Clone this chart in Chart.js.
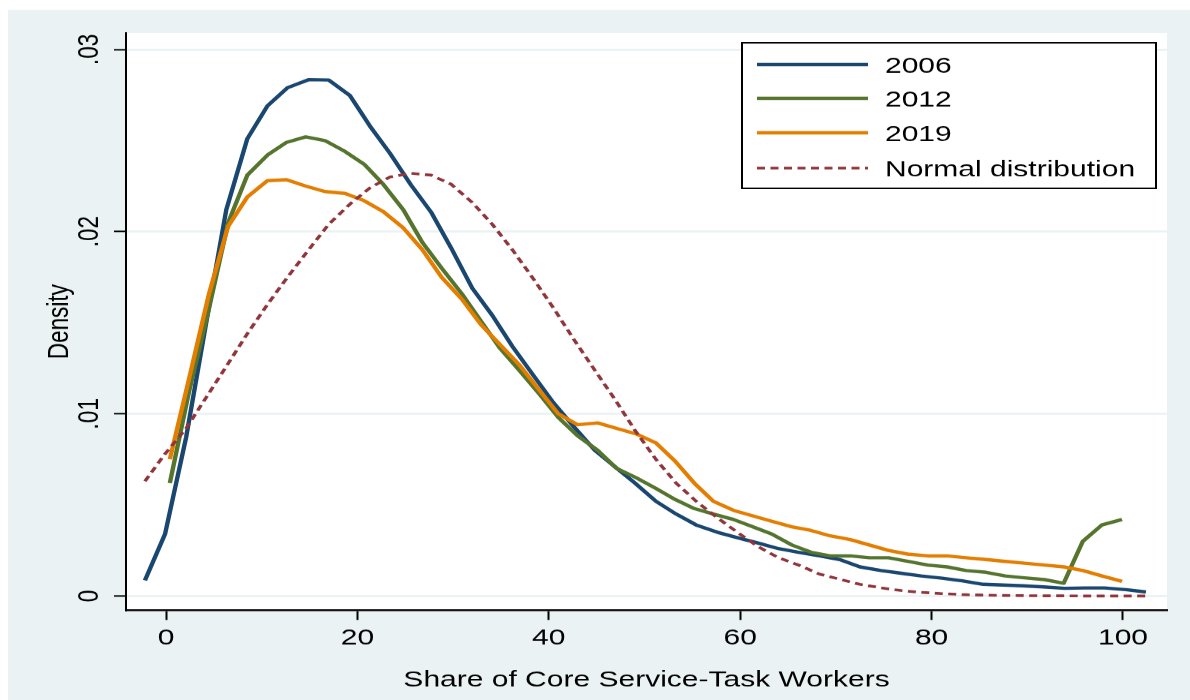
<!DOCTYPE html>
<html>
<head>
<meta charset="utf-8">
<title>Density of the share of core service-task workers</title>
<script src="https://cdn.jsdelivr.net/npm/chart.js@4.4.1/dist/chart.umd.min.js"></script>
<style>
  html, body { margin: 0; padding: 0; background: #ffffff; overflow: hidden; width: 1190px; height: 700px; }
  /* the graph is laid out on a taller page and compressed vertically to 700px */
  #frame { width: 1190px; height: 933px; transform: scaleY(0.75027); transform-origin: 0 0; }
</style>
</head>
<body>
<div id="frame"><canvas id="chart"></canvas></div>
<script>
// Evaluation points (share of core service-task workers, %)
const shareA = [-2.2, -0.1, 2.1, 4.2, 6.3, 8.5, 10.6, 12.7, 14.9, 17.0,
                19.2, 21.3, 23.4, 25.6, 27.7, 29.8, 32.0, 34.1, 36.2, 38.4,
                40.5, 42.6, 44.8, 46.9, 49.0, 51.2, 53.3, 55.4, 57.6, 59.7,
                61.9, 64.0, 66.1, 68.3, 70.4, 72.5, 74.7, 76.8, 78.9, 81.1,
                83.2, 85.4, 87.5, 89.6, 91.7, 93.9, 96.0, 98.1, 100.3, 102.4];
const shareB = [0.4, 2.4, 4.5, 6.5, 8.5, 10.6, 12.6, 14.6, 16.6, 18.7,
                20.7, 22.7, 24.8, 26.8, 28.8, 30.9, 32.9, 34.9, 36.9, 39.0,
                41.0, 43.0, 45.1, 47.1, 49.1, 51.2, 53.2, 55.2, 57.2, 59.3,
                61.3, 63.3, 65.4, 67.4, 69.4, 71.5, 73.5, 75.5, 77.5, 79.6,
                81.6, 83.6, 85.7, 87.7, 89.7, 91.8, 93.8, 95.8, 97.8, 99.9];

// Kernel density estimates by year
const density2006 = [0.00086, 0.0034, 0.0087, 0.0150, 0.0212, 0.0251, 0.0269, 0.0279, 0.02834, 0.02832,
                     0.02748, 0.0258, 0.0243, 0.02256, 0.02107, 0.0191, 0.0169, 0.0154, 0.0137, 0.0121,
                     0.0106, 0.0093, 0.0080, 0.0071, 0.0062, 0.0052, 0.0045, 0.0039, 0.0035, 0.0032,
                     0.0029, 0.0026, 0.0024, 0.0022, 0.0020, 0.0016, 0.0014, 0.00125, 0.0011, 0.00098,
                     0.00083, 0.00064, 0.0006, 0.00056, 0.0005, 0.00042, 0.00044, 0.00044, 0.00035, 0.00022];
const density2012 = [0.0062, 0.0112, 0.0158, 0.0205, 0.0231, 0.0242, 0.0249, 0.0252, 0.0250, 0.0244,
                     0.0237, 0.0226, 0.0212, 0.0194, 0.0180, 0.0166, 0.0151, 0.0136, 0.0124, 0.0111,
                     0.0098, 0.0088, 0.0080, 0.0070, 0.0065, 0.0059, 0.0053, 0.0048, 0.0045, 0.0042,
                     0.0038, 0.0034, 0.0028, 0.0024, 0.0022, 0.0022, 0.0021, 0.0021, 0.0019, 0.0017,
                     0.0016, 0.0014, 0.0013, 0.0011, 0.0010, 0.0009, 0.0007, 0.0030, 0.0039, 0.0042];
const density2019 = [0.0075, 0.0119, 0.0166, 0.0203, 0.0219, 0.0228, 0.02285, 0.0225, 0.0222, 0.0221,
                     0.0217, 0.0211, 0.0202, 0.0190, 0.0175, 0.0163, 0.0149, 0.0138, 0.0127, 0.0113,
                     0.0100, 0.0094, 0.0095, 0.0092, 0.0089, 0.0084, 0.0074, 0.0062, 0.0052, 0.0047,
                     0.0044, 0.0041, 0.0038, 0.0036, 0.0033, 0.0031, 0.0028, 0.0025, 0.0023, 0.0022,
                     0.0022, 0.0021, 0.0020, 0.0019, 0.0018, 0.0017, 0.0016, 0.0014, 0.0011, 0.0008];
// Normal reference density
const densityNormal = [0.0063, 0.0078, 0.0092, 0.0109, 0.0126, 0.0144, 0.0160, 0.0175, 0.0190, 0.0204,
                       0.0215, 0.0224, 0.0230, 0.0232, 0.0231, 0.0226, 0.0216, 0.0204, 0.0190, 0.0174,
                       0.0158, 0.0141, 0.0124, 0.0108, 0.0091, 0.0075, 0.0062, 0.0052, 0.0043, 0.0035,
                       0.0027, 0.0021, 0.0017, 0.0012, 0.00092, 0.00064, 0.00045, 0.0003, 0.0002, 0.00013,
                       0.00008, 0.00005, 0.00003, 0.00002, 0.00001, 0.00001, 0, 0, 0, 0];

const seriesLabels = ['2006', '2012', '2019', 'Normal distribution'];
const xTickValues = [0, 20, 40, 60, 80, 100];
const xTickLabels = ['0', '20', '40', '60', '80', '100'];
const yTickValues = [0, 0.01, 0.02, 0.03];
const yTickLabels = ['0', '.01', '.02', '.03'];
const xTitle = 'Share of Core Service-Task Workers';
const yTitle = 'Density';

const FONT_FAMILY = "'Liberation Sans', Arial, Helvetica, sans-serif";
const REGION = '#eaf2f3';
const pts = (xs, ys) => xs.map((x, i) => ({ x: x, y: ys[i] }));

// Light graph region, white plot region
const backdrop = {
  id: 'backdrop',
  beforeDraw(chart) {
    const { ctx, width, height, chartArea: a } = chart;
    ctx.save();
    ctx.fillStyle = '#ffffff';
    ctx.fillRect(0, 0, width, height);
    ctx.fillStyle = REGION;
    ctx.fillRect(8, 13.3, width - 8, height - 13.3);
    ctx.fillStyle = '#ffffff';
    ctx.fillRect(a.left, a.top, a.right - a.left, a.bottom - a.top);
    ctx.restore();
  }
};

// Boxed key in the upper right of the plot region
const boxedKey = {
  id: 'boxedKey',
  afterDatasetsDraw(chart) {
    const { ctx } = chart;
    const box = { left: 742, top: 57, right: 1156, bottom: 251 };
    const rows = [86, 131, 177, 224];
    ctx.save();
    ctx.fillStyle = '#ffffff';
    ctx.fillRect(box.left, box.top, box.right - box.left, box.bottom - box.top);
    ctx.strokeStyle = '#000000';
    ctx.lineWidth = 2;
    ctx.strokeRect(box.left, box.top, box.right - box.left, box.bottom - box.top);
    chart.data.datasets.forEach((ds, i) => {
      const y = rows[i];
      ctx.beginPath();
      ctx.strokeStyle = ds.borderColor;
      ctx.lineWidth = ds.borderWidth;
      ctx.setLineDash(ds.borderDash || []);
      ctx.moveTo(757, y);
      ctx.lineTo(868, y);
      ctx.stroke();
      ctx.setLineDash([]);
      ctx.fillStyle = '#000000';
      ctx.font = '30px ' + FONT_FAMILY;
      ctx.textAlign = 'left';
      ctx.textBaseline = 'middle';
      ctx.fillText(ds.label, 885, y + 3);
    });
    ctx.restore();
  }
};

const axisFont = { family: FONT_FAMILY, size: 30 };

new Chart(document.getElementById('chart'), {
  type: 'line',
  data: {
    datasets: [
      { label: seriesLabels[0], data: pts(shareA, density2006), borderColor: '#1a476f', borderWidth: 4.4, order: 4 },
      { label: seriesLabels[1], data: pts(shareB, density2012), borderColor: '#55752f', borderWidth: 4.4, order: 3 },
      { label: seriesLabels[2], data: pts(shareB, density2019), borderColor: '#e37e00', borderWidth: 4.4, order: 2 },
      { label: seriesLabels[3], data: pts(shareA, densityNormal), borderColor: '#90353b', borderWidth: 3.6,
        borderDash: [8, 5.5], order: 1 }
    ]
  },
  options: {
    responsive: true,
    maintainAspectRatio: false,
    animation: false,
    events: [],
    layout: { padding: { left: 0, top: 44, right: 23, bottom: 0 } },
    elements: {
      point: { radius: 0, hoverRadius: 0 },
      line: { tension: 0, fill: false, borderJoinStyle: 'round' }
    },
    plugins: { legend: { display: false }, tooltip: { enabled: false } },
    scales: {
      x: {
        type: 'linear',
        min: -4.18,
        max: 104.6,
        afterFit(scale) { scale.height = 119.7; },
        afterBuildTicks(scale) { scale.ticks = xTickValues.map(v => ({ value: v })); },
        ticks: {
          callback: (v, i) => xTickLabels[i],
          font: axisFont, color: '#000000', padding: 6.5,
          maxRotation: 0, minRotation: 0, autoSkip: false
        },
        grid: { drawOnChartArea: false, drawTicks: true, tickLength: 13, tickColor: '#000000', tickWidth: 2 },
        border: { display: true, color: '#000000', width: 2.6 },
        title: { display: true, text: xTitle, font: axisFont, color: '#000000', padding: { top: 0, bottom: 8 } }
      },
      y: {
        min: -0.00078,
        max: 0.0309,
        afterFit(scale) { scale.width = 126; },
        afterBuildTicks(scale) { scale.ticks = yTickValues.map(v => ({ value: v })); },
        ticks: {
          callback: (v, i) => yTickLabels[i],
          font: axisFont, color: '#000000', padding: 3,
          minRotation: 90, maxRotation: 90, crossAlign: 'center', autoSkip: false
        },
        grid: { color: REGION, lineWidth: 2.7, drawTicks: true, tickLength: 12, tickColor: '#000000', tickWidth: 2 },
        border: { display: true, color: '#000000', width: 2 },
        title: { display: true, text: yTitle, font: axisFont, color: '#000000', padding: { top: 42, bottom: 0 } }
      }
    }
  },
  plugins: [backdrop, boxedKey]
});
</script>
</body>
</html>
